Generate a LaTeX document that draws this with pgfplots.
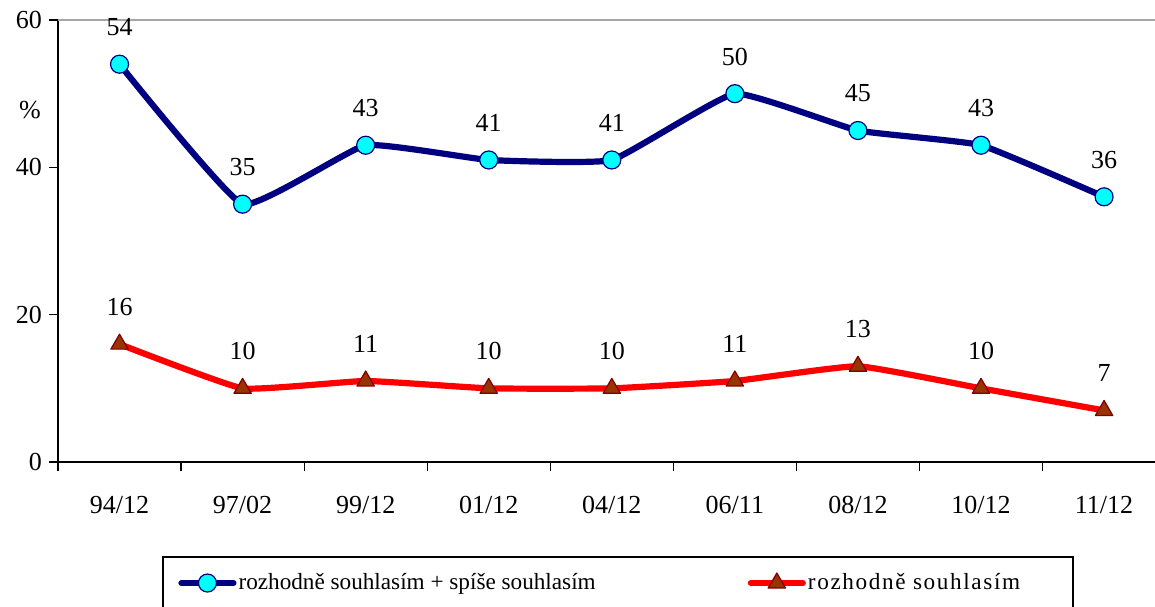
\documentclass[border=0pt]{standalone}
\usepackage{fontspec}
\setmainfont{Liberation Serif}
\usepackage{pgfplots}
\pgfplotsset{compat=1.18}
\definecolor{navyb}{RGB}{0,0,128}
\definecolor{cyanm}{RGB}{0,255,255}
\definecolor{redl}{RGB}{255,0,0}
\definecolor{brownm}{RGB}{153,51,0}
\definecolor{darkredm}{RGB}{128,0,0}
\begin{document}
\begin{tikzpicture}
\begin{axis}[
  scale only axis, width=553.8pt, height=221pt,
  xmin=-0.5, xmax=8.5, ymin=0, ymax=60,
  clip=false,
  axis x line*=bottom, axis y line*=left,
  every outer x axis line/.append style={-, line width=0.8pt},
  every outer y axis line/.append style={-, line width=0.8pt},
  axis line style={-},
  xtick={0,...,8},
  xticklabels={94/12,97/02,99/12,01/12,04/12,06/11,08/12,10/12,11/12},
  minor xtick={-0.5,0.5,...,8.5},
  major x tick style={draw=none},
  ytick={0,20,40,60},
  tick align=outside,
  major tick length=4.5pt, minor tick length=4.5pt,
  tick style={line width=0.6pt, black},
  /pgf/number format/assume math mode=true,
  tick label style={font=\fontsize{13}{15}\selectfont},
  xticklabel style={yshift=-9pt},
  every node near coord/.append style={black, font=\fontsize{13}{15}\selectfont, anchor=center, yshift=18.5pt},
  legend columns=2,
  legend style={at={(axis description cs:0.1083,-0.2738)}, anchor=west, draw=none, fill=none, inner sep=0pt,
    font=\fontsize{11.6}{14}\selectfont,
    nodes={inner xsep=1pt},
    /tikz/every even column/.append style={column sep=75pt}},
  legend image code/.code={\draw[#1, mark repeat=2, mark phase=2] plot coordinates {(0pt,0pt) (13pt,0pt) (26pt,0pt)};},
]
\addplot[navyb, line width=3.1pt, line cap=round, line join=round, smooth, tension=0.22,
  mark=*, mark size=4.5pt, mark options={fill=cyanm, draw=navyb, line width=0.6pt, solid},
  nodes near coords]
  coordinates {(0,54) (1,35) (2,43) (3,41) (4,41) (5,50) (6,45) (7,43) (8,36)};
\addplot[redl, line width=3.1pt, line cap=round, line join=round, smooth, tension=0.22,
  mark=triangle*, mark size=5pt, mark options={fill=brownm, draw=darkredm, line width=0.6pt, solid},
  nodes near coords]
  coordinates {(0,16) (1,10) (2,11) (3,10) (4,10) (5,11) (6,13) (7,10) (8,7)};
\legend{rozhodně souhlasím + spíše souhlasím, {\addfontfeature{LetterSpace=7}rozhodně souhlasím}}
\draw[gray!70, line width=0.6pt] (rel axis cs:0,1) -- (rel axis cs:1,1);
\draw[black, line width=0.8pt] (rel axis cs:0.0948,-0.40) rectangle (rel axis cs:0.9164,-0.2149);
\node[font=\fontsize{13}{15}\selectfont] at (rel axis cs:-0.0253,0.796) {\%};
\coordinate (bbA) at (rel axis cs:-0.05237,-0.32579);
\coordinate (bbB) at (rel axis cs:0.99043,1.04525);
\end{axis}
\pgfresetboundingbox
\path (bbA) rectangle (bbB);
\end{tikzpicture}
\end{document}
